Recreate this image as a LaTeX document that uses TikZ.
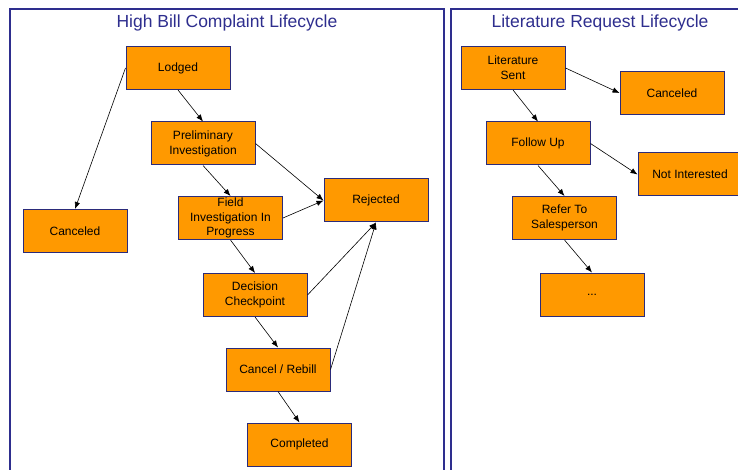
\documentclass[tikz,border=0pt]{standalone}
\usepackage{fontspec}
\setmainfont{Liberation Sans}
\usetikzlibrary{arrows.meta}
\definecolor{frameblue}{HTML}{2E2E8E}
\definecolor{boxorange}{HTML}{FF9900}
\definecolor{boxedge}{HTML}{2B2B7A}
\tikzset{
  state/.style={draw=boxedge, line width=1pt, fill=boxorange, minimum width=104pt, minimum height=43pt,
    inner sep=0pt, align=center, font=\fontsize{12}{14.8}\selectfont, text=black},
  frame/.style={draw=frameblue, line width=1.3pt},
  ttl/.style={text=frameblue, font=\fontsize{17.5}{20}\selectfont, inner sep=0pt},
  conn/.style={draw=black, line width=0.6pt, -{Latex[length=7pt,width=5.5pt]}}
}
\begin{document}
\begin{tikzpicture}[x=1pt, y=-1pt]
\useasboundingbox (0,0) rectangle (738,470);
\clip (0,0) rectangle (738,470);
\fill[white] (0,0) rectangle (738,470);
% frames
\draw[frame] (10,490) -- (10,9) -- (444,9) -- (444,490);
\draw[frame] (451,490) -- (451,9) -- (760,9);
\node[ttl] (t1) at (227,23) {High Bill Complaint Lifecycle};
\node[ttl] (t2) at (600,23) {Literature Request Lifecycle};
% left lifecycle
\node[state] (lodged) at (178,68) {Lodged};
\node[state] (prelim) at (203,143.5) {Preliminary\\Investigation};
\node[state] (field) at (230.5,218) {Field\\Investigation In\\Progress};
\node[state] (rejected) at (376,200.5) {Rejected};
\node[state] (canc1) at (75,231) {Canceled};
\node[state] (decision) at (255,295) {Decision\\Checkpoint};
\node[state] (rebill) at (278,369.5) {Cancel / Rebill};
\node[state] (completed) at (299.5,444.5) {Completed};
% right lifecycle
\node[state] (litsent) at (513,68) {Literature\\Sent};
\node[state] (canc2) at (672,93) {Canceled};
\node[state] (follow) at (538,143.5) {Follow Up};
\node[state] (notint) at (690,174.5) {Not Interested};
\node[state] (refer) at (564.5,218) {Refer To\\Salesperson};
\node[state] (dots) at (592,294.5) {...};
% connectors left
\draw[conn] (lodged.south) -- (prelim.north);
\draw[conn] (lodged.west) -- (canc1.north);
\draw[conn] (prelim.south) -- (field.north);
\draw[conn] (prelim.east) -- (rejected.west);
\draw[conn] (field.east) -- (rejected.west);
\draw[conn] (field.south) -- (decision.north);
\draw[conn] (decision.east) -- (rejected.south);
\draw[conn] (decision.south) -- (rebill.north);
\draw[conn] (rebill.east) -- (rejected.south);
\draw[conn] (rebill.south) -- (completed.north);
% connectors right
\draw[conn] (litsent.east) -- (canc2.west);
\draw[conn] (litsent.south) -- (follow.north);
\draw[conn] (follow.east) -- (notint.west);
\draw[conn] (follow.south) -- (refer.north);
\draw[conn] (refer.south) -- (dots.north);
\end{tikzpicture}
\end{document}
